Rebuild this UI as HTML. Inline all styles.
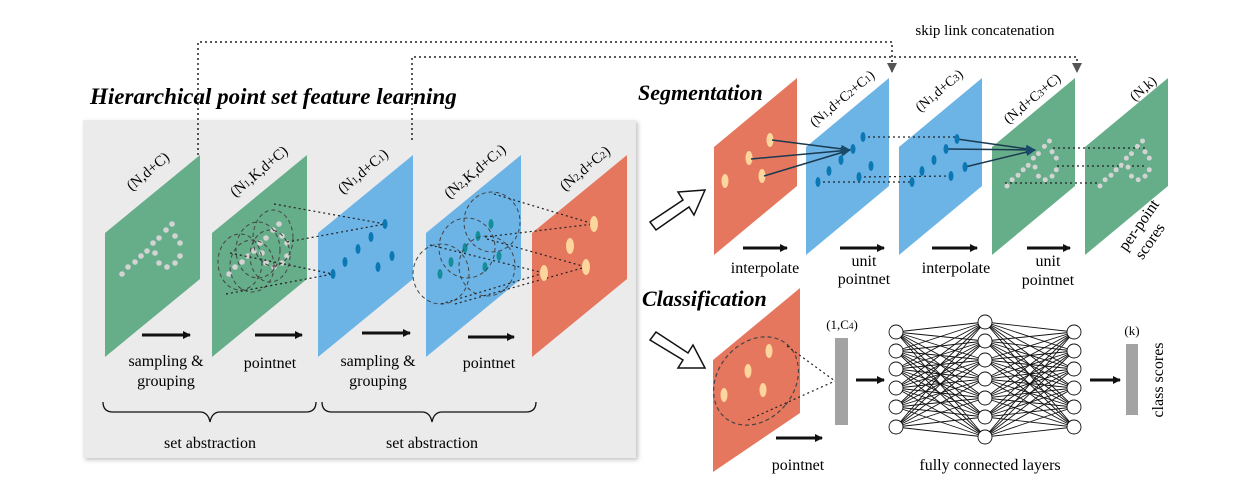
<!DOCTYPE html>
<html><head><meta charset="utf-8"><style>
html,body{margin:0;padding:0;background:#fff;}
svg{display:block;font-family:"Liberation Serif",serif;}
</style></head><body>
<svg id="s" width="1252" height="487" viewBox="0 0 1252 487" xmlns="http://www.w3.org/2000/svg">
<defs>
<filter id="sh" x="-5%" y="-5%" width="110%" height="110%"><feDropShadow dx="2" dy="2" stdDeviation="2" flood-color="#999" flood-opacity="0.6"/></filter>
<marker id="ah" markerWidth="8" markerHeight="8" refX="7" refY="4" orient="auto" markerUnits="userSpaceOnUse"><path d="M0,0 L8,4 L0,8 z" fill="#111"/></marker>
<marker id="ag" markerWidth="10" markerHeight="10" refX="9" refY="5" orient="auto" markerUnits="userSpaceOnUse"><path d="M0,0 L10,5 L0,10 z" fill="#555"/></marker>
<marker id="an" markerWidth="10" markerHeight="10" refX="9" refY="5" orient="auto" markerUnits="userSpaceOnUse"><path d="M0,1 L10,5 L0,9 z" fill="#1a4a6a"/></marker>
</defs>
<rect x="83" y="120" width="553" height="338" fill="#ebebeb" filter="url(#sh)"/>
<path d="M198,155 V42 H892 V72" fill="none" stroke="#222" stroke-width="1.5" stroke-dasharray="2,3" marker-end="url(#ag)"/>
<path d="M412,140 V57 H1077 V72" fill="none" stroke="#222" stroke-width="1.5" stroke-dasharray="2,3" marker-end="url(#ag)"/>
<text x="985" y="35" font-size="15" text-anchor="middle">skip link concatenation</text>
<text x="90" y="104" font-size="23" font-weight="bold" font-style="italic">Hierarchical point set feature learning</text>
<text x="638" y="100" font-size="22" font-weight="bold" font-style="italic">Segmentation</text>
<text x="642" y="306" font-size="22" font-weight="bold" font-style="italic">Classification</text>

<g id="left">
<polygon points="105,233 200,155 200,279 105,357" fill="#66ad8a"/>
<polygon points="212,233 307,155 307,279 212,357" fill="#66ad8a"/>
<polygon points="318,233 413,155 413,279 318,357" fill="#6cb3e6"/>
<polygon points="426,233 521,155 521,279 426,357" fill="#6cb3e6"/>
<polygon points="532,233 627,155 627,279 532,357" fill="#e6775f"/>
</g>
<g id="dots1" fill="#d3d3d3"></g>
<g fill="none" stroke="#444" stroke-width="1" stroke-dasharray="4,3">
<ellipse cx="240" cy="262" rx="22" ry="28"/>
<ellipse cx="258" cy="250" rx="22" ry="28"/>
<ellipse cx="273" cy="238" rx="20" ry="28"/>
<ellipse cx="270" cy="256" rx="20" ry="26"/>
<ellipse cx="252" cy="266" rx="22" ry="26"/>
</g>
<g stroke="#222" stroke-width="1.2" stroke-dasharray="2,3">
<line x1="274" y1="204" x2="385" y2="224"/><line x1="287" y1="242" x2="385" y2="224"/>
<line x1="230" y1="253" x2="333" y2="274"/><line x1="226" y1="294" x2="333" y2="274"/>
</g>
<g fill="#0b78b3">
<ellipse cx="385" cy="224" rx="2.5" ry="5"/><ellipse cx="371" cy="237" rx="2.5" ry="5"/><ellipse cx="358" cy="249" rx="2.5" ry="5"/><ellipse cx="345" cy="262" rx="2.5" ry="5"/><ellipse cx="333" cy="274" rx="2.5" ry="5"/><ellipse cx="378" cy="267" rx="2.5" ry="5"/><ellipse cx="392" cy="256" rx="2.5" ry="5"/>
</g>
<g fill="#138e9a">
<ellipse cx="491" cy="224" rx="2.5" ry="5"/><ellipse cx="478" cy="236" rx="2.5" ry="5"/><ellipse cx="465" cy="248" rx="2.5" ry="5"/><ellipse cx="451" cy="262" rx="2.5" ry="5"/><ellipse cx="440" cy="274" rx="2.5" ry="5"/><ellipse cx="485" cy="267" rx="2.5" ry="5"/><ellipse cx="499" cy="256" rx="2.5" ry="5"/>
</g>
<g fill="none" stroke="#444" stroke-width="1" stroke-dasharray="4,3">
<ellipse cx="492" cy="222" rx="28" ry="30"/>
<ellipse cx="467" cy="248" rx="28" ry="30"/>
<ellipse cx="441" cy="274" rx="28" ry="30"/>
<ellipse cx="487" cy="266" rx="28" ry="30"/>
</g>
<g stroke="#222" stroke-width="1.2" stroke-dasharray="2,3">
<line x1="494" y1="194" x2="594" y2="224"/><line x1="485" y1="237" x2="594" y2="224"/>
<line x1="487" y1="239" x2="586" y2="267"/><line x1="441" y1="304" x2="544" y2="273"/>
<line x1="455" y1="304" x2="586" y2="267"/><line x1="430" y1="245" x2="544" y2="273"/>
</g>
<g fill="#fcd69c">
<ellipse cx="594" cy="224" rx="4" ry="8"/><ellipse cx="570" cy="246" rx="4" ry="8"/><ellipse cx="586" cy="267" rx="4" ry="8"/><ellipse cx="544" cy="273" rx="4" ry="8"/>
</g>
<g font-size="15">
<text transform="translate(151,175) rotate(-40)" text-anchor="middle">(N,d+C)</text>
<text transform="translate(262,175) rotate(-40)" text-anchor="middle">(N<tspan font-size="10">1</tspan>,K,d+C)</text>
<text transform="translate(366,175) rotate(-40)" text-anchor="middle">(N<tspan font-size="10">1</tspan>,d+C<tspan font-size="10">1</tspan>)</text>
<text transform="translate(478,175) rotate(-40)" text-anchor="middle">(N<tspan font-size="10">2</tspan>,K,d+C<tspan font-size="10">1</tspan>)</text>
<text transform="translate(588,172) rotate(-40)" text-anchor="middle">(N<tspan font-size="10">2</tspan>,d+C<tspan font-size="10">2</tspan>)</text>
</g>
<g stroke="#111" stroke-width="3" marker-end="url(#ah)">
<line x1="142" y1="335" x2="190" y2="335"/><line x1="255" y1="335" x2="302" y2="335"/>
<line x1="362" y1="333" x2="410" y2="333"/><line x1="468" y1="337" x2="514" y2="337"/>
</g>
<g font-size="16" text-anchor="middle">
<text x="166" y="366">sampling &amp;</text><text x="166" y="386">grouping</text>
<text x="270" y="368">pointnet</text>
<text x="378" y="366">sampling &amp;</text><text x="378" y="386">grouping</text>
<text x="489" y="368">pointnet</text>
<text x="210" y="448">set abstraction</text><text x="432" y="448">set abstraction</text>
</g>
<g fill="none" stroke="#111" stroke-width="1.3">
<path d="M103,402 Q103,412 113,412 H200 Q208,412 210,422 Q212,412 220,412 H306 Q316,412 316,402"/>
<path d="M322,402 Q322,412 332,412 H422 Q430,412 432,422 Q434,412 442,412 H526 Q536,412 536,402"/>
</g>

<polygon points="650,222 683,200 678,192 705,190 694,215 689,207 656,230" fill="#fff" stroke="#111" stroke-width="1.5"/>
<polygon points="650,340 683,360 678,368 705,368 693,345 688,353 656,332" fill="#fff" stroke="#111" stroke-width="1.5"/>

<polygon points="714,147 797,78 797,186 714,255" fill="#e6775f"/>
<polygon points="806,147 889,78 889,186 806,255" fill="#6cb3e6"/>
<polygon points="899,147 982,78 982,186 899,255" fill="#6cb3e6"/>
<polygon points="992,147 1075,78 1075,186 992,255" fill="#66ad8a"/>
<polygon points="1085,147 1168,78 1168,186 1085,255" fill="#66ad8a"/>
<g fill="#fcd69c">
<ellipse cx="770" cy="140" rx="3.5" ry="7"/><ellipse cx="749" cy="158" rx="3.5" ry="7"/><ellipse cx="762" cy="176" rx="3.5" ry="7"/><ellipse cx="725" cy="181" rx="3.5" ry="7"/>
</g>
<g stroke="#1a3a50" stroke-width="1.5">
<line x1="772" y1="140" x2="850" y2="150" marker-end="url(#an)"/>
<line x1="751" y1="159" x2="850" y2="150" marker-end="url(#an)"/>
<line x1="764" y1="176" x2="850" y2="150" marker-end="url(#an)"/>
<line x1="957" y1="139" x2="1035" y2="150" marker-end="url(#an)"/>
<line x1="946" y1="149" x2="1035" y2="150" marker-end="url(#an)"/>
<line x1="965" y1="167" x2="1035" y2="150" marker-end="url(#an)"/>
</g>
<g stroke="#222" stroke-width="1.2" stroke-dasharray="2,3">
<line x1="863" y1="137" x2="957" y2="137"/><line x1="859" y1="177" x2="951" y2="176"/>
<line x1="818" y1="182" x2="912" y2="182"/>
<line x1="1053" y1="148" x2="1146" y2="148"/><line x1="1057" y1="166" x2="1146" y2="166"/>
<line x1="1005" y1="183" x2="1098" y2="183"/>
</g>
<g fill="#0b78b3">
<ellipse cx="863" cy="137" rx="2.5" ry="5"/><ellipse cx="853" cy="149" rx="2.5" ry="5"/><ellipse cx="841" cy="160" rx="2.5" ry="5"/><ellipse cx="829" cy="171" rx="2.5" ry="5"/><ellipse cx="871" cy="166" rx="2.5" ry="5"/><ellipse cx="818" cy="182" rx="2.5" ry="5"/><ellipse cx="859" cy="177" rx="2.5" ry="5"/>
<ellipse cx="957" cy="139" rx="2.5" ry="5"/><ellipse cx="946" cy="149" rx="2.5" ry="5"/><ellipse cx="934" cy="160" rx="2.5" ry="5"/><ellipse cx="922" cy="171" rx="2.5" ry="5"/><ellipse cx="965" cy="167" rx="2.5" ry="5"/><ellipse cx="912" cy="182" rx="2.5" ry="5"/><ellipse cx="951" cy="176" rx="2.5" ry="5"/>
</g>
<g id="dots2" fill="#d3d3d3"></g>
<g font-size="14">
<text transform="translate(845,102) rotate(-40)" text-anchor="middle">(N<tspan font-size="10">1</tspan>,d+C<tspan font-size="10">2</tspan>+C<tspan font-size="10">1</tspan>)</text>
<text transform="translate(942,94) rotate(-40)" text-anchor="middle">(N<tspan font-size="10">1</tspan>,d+C<tspan font-size="10">3</tspan>)</text>
<text transform="translate(1035,102) rotate(-40)" text-anchor="middle">(N,d+C<tspan font-size="10">3</tspan>+C)</text>
<text transform="translate(1146,92) rotate(-40)" text-anchor="middle">(N,k)</text>
</g>
<g stroke="#111" stroke-width="3" marker-end="url(#ah)">
<line x1="743" y1="248" x2="787" y2="248"/><line x1="840" y1="248" x2="884" y2="248"/>
<line x1="932" y1="248" x2="977" y2="248"/><line x1="1027" y1="248" x2="1070" y2="248"/>
</g>
<g font-size="16" text-anchor="middle">
<text x="765" y="273">interpolate</text>
<text x="864" y="266">unit</text><text x="864" y="284">pointnet</text>
<text x="956" y="273">interpolate</text>
<text x="1048" y="266">unit</text><text x="1048" y="285">pointnet</text>
<text transform="translate(1143,228) rotate(-55)" x="0" y="0">per-point</text>
<text transform="translate(1154,244) rotate(-55)" x="0" y="0">scores</text>
</g>

<polygon points="713,360 800,288 800,413 713,472" fill="#e6775f"/>
<ellipse cx="756" cy="381" rx="38" ry="48" transform="rotate(40 756 381)" fill="none" stroke="#444" stroke-dasharray="4,3" stroke-width="1.2"/>
<g stroke="#222" stroke-width="1.2" stroke-dasharray="2,3">
<line x1="787" y1="346" x2="835" y2="381"/><line x1="748" y1="420" x2="835" y2="381"/>
</g>
<g fill="#fcd69c">
<ellipse cx="769" cy="351" rx="3.5" ry="7"/><ellipse cx="748" cy="371" rx="3.5" ry="7"/><ellipse cx="763" cy="390" rx="3.5" ry="7"/><ellipse cx="724" cy="395" rx="3.5" ry="7"/>
</g>
<rect x="835" y="338" width="13" height="87" fill="#a3a3a3"/>
<text x="842" y="329" font-size="13" text-anchor="middle">(1,C<tspan font-size="9">4</tspan>)</text>
<g id="net" stroke="#111" stroke-width="0.9"></g>
<rect x="1126" y="344" width="12" height="71" fill="#a3a3a3"/>
<text x="1132" y="335" font-size="13" text-anchor="middle">(k)</text>
<text transform="translate(1163,380) rotate(-90)" font-size="16" text-anchor="middle">class scores</text>
<g stroke="#111" stroke-width="3" marker-end="url(#ah)">
<line x1="856" y1="380" x2="884" y2="380"/><line x1="1090" y1="380" x2="1120" y2="380"/>
<line x1="776" y1="438" x2="822" y2="438"/>
</g>
<g font-size="16" text-anchor="middle">
<text x="798" y="470">pointnet</text>
<text x="990" y="470">fully connected layers</text>
</g>
<script>
(function(){
var NS="http://www.w3.org/2000/svg";
function el(p,t,a){var e=document.createElementNS(NS,t);for(var k in a)e.setAttribute(k,a[k]);p.appendChild(e);return e;}
var base=[[122,274],[128,267],[135,262],[141,256],[147,251],[153,243],[159,238],[166,230],[172,224],[175,236],[180,243],[180,256],[175,263],[167,267],[159,263],[155,253]];
var d1=document.getElementById('dots1');
[0,107].forEach(function(o){base.forEach(function(p){el(d1,'circle',{cx:p[0]+o,cy:p[1],r:2.8});});});
var d2=document.getElementById('dots2');
[[1005,0],[1098,0]].forEach(function(o){base.forEach(function(p){
 var x=(p[0]-122)*0.85+o[0]+2, y=(p[1]-274)*0.9+186;
 el(d2,'circle',{cx:x,cy:y,r:2.5});});});
var net=document.getElementById('net');
var L1=[332,351,369,388,407,427],L2=[322,341,360,379,398,417,437];
var x1=896,x2=985,x3=1074,r=7;
L1.forEach(function(a){L2.forEach(function(b){el(net,'line',{x1:x1,y1:a,x2:x2,y2:b});el(net,'line',{x1:x2,y1:b,x2:x3,y2:a});});});
L1.forEach(function(a){el(net,'circle',{cx:x1,cy:a,r:r,fill:'#fff'});el(net,'circle',{cx:x3,cy:a,r:r,fill:'#fff'});});
L2.forEach(function(b){el(net,'circle',{cx:x2,cy:b,r:r,fill:'#fff'});});
})();
</script>
</svg>
</body></html>
